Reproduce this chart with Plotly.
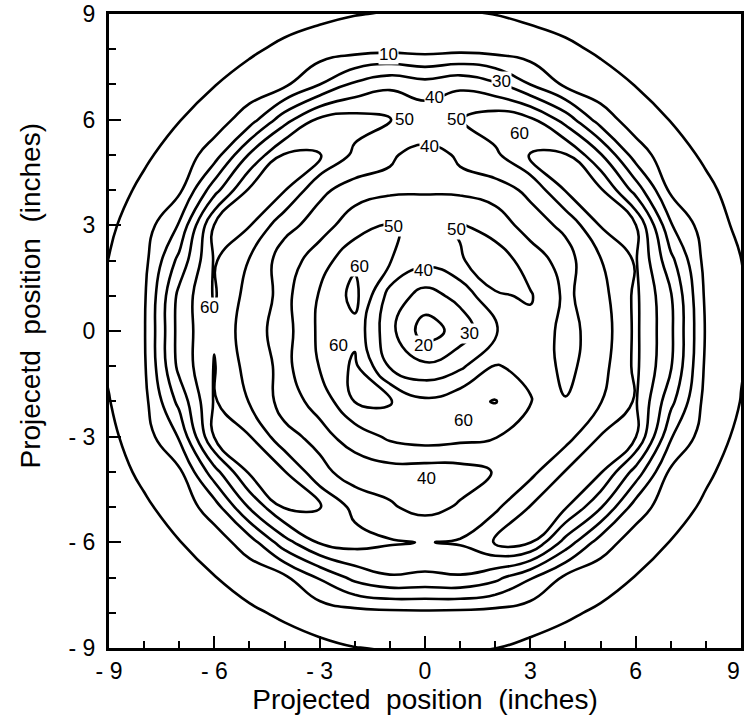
import plotly.graph_objects as go

# ---- data (grid in inches, values of the contoured quantity) ----
x_in = list(range(-10, 11))
y_in = list(range(-10, 11))

# rows ordered from y = -10 (first) to y = 10 (last); columns x = -10 .. 10
z_rows = [
    [-8, -8, -8, -8, -7.5, -7, -6.5, -6, -5.5, -5, -5, -5, -5.5, -6, -6.5, -7, -7.5, -8, -8, -8, -8],
    [-8, -8, -8, -7, -6.5, -5.5, -4, -2, -0.2, 0.5, 1, 0.5, 0.1, -2, -4, -5.5, -6.5, -7, -8, -8, -8],
    [-8, -8, -7, -6, -5, -1.5, 1.5, 4.5, 6.5, 7.5, 8, 7.5, 6.5, 4.5, 1.5, -1.5, -5, -6, -7, -8, -8],
    [-8, -7, -6, -4.5, -0.3, 4, 8, 21, 33, 39, 38, 39, 33, 21, 8, 4, -0.3, -4.5, -6, -7, -8],
    [-7.5, -6.5, -5, -0.3, 5, 15, 36, 51, 54, 51, 49.6, 51, 60.5, 60.5, 36, 15, 5, -0.3, -5, -6.5, -7.5],
    [-7, -5.5, -1.5, 4, 15, 41, 61, 60.5, 47, 41, 37, 41, 48, 60.5, 61, 41, 15, 4, -1.5, -5.5, -7],
    [-6.5, -4, 2, 8, 36, 61.5, 60.5, 43, 35, 36, 35, 36, 40.5, 47, 60.5, 61, 36, 8, 1.5, -4, -6.5],
    [-6, -2, 5, 21, 60.5, 60.5, 43, 37, 44, 52, 55, 53, 50.5, 44, 46, 60.5, 60.5, 21, 4.5, -2, -6],
    [-5.5, -0.3, 7, 33, 61, 49.5, 36, 43, 60.3, 61, 52, 57, 60.5, 50.5, 40.5, 49.5, 61, 33, 6.5, -0.2, -5.5],
    [-5, 1, 8.5, 43, 60.5, 46, 37, 50.5, 62, 39, 32, 38, 50.5, 48, 37, 46, 62, 41, 8, 0.5, -5],
    [-4.5, 2, 9, 44, 59, 44, 36, 52, 57, 33, 15, 24, 39.5, 47, 37, 44, 62, 42, 9, 1, -5],
    [-5, 1.5, 8.5, 43, 61, 46, 37, 51, 63, 36, 26, 33, 49, 51, 38, 46, 62, 41, 8, 0.5, -5],
    [-5.5, 0.2, 7, 33, 61, 49.5, 35, 45, 58, 50.5, 43, 49, 56, 45, 36, 49.5, 61, 33, 6.5, 0.1, -5.5],
    [-6, -1.5, 5, 21, 60.5, 60.5, 43, 36, 45, 51, 47, 51, 45, 36, 42, 60.5, 60.5, 21, 4.5, -2, -6],
    [-6.5, -4, 2, 8, 36, 61.5, 60.5, 42, 36, 38, 39, 38, 36, 42, 60.5, 61.5, 36, 8, 2, -4, -6.5],
    [-7, -5.5, -1.5, 4, 15, 41, 61, 60.5, 48, 41, 37, 41, 48, 60.5, 61, 41, 15, 4, -1.5, -5.5, -7],
    [-7.5, -6.5, -5, -0.3, 5, 15, 36, 52, 54, 50.5, 47, 49.5, 56, 52, 36, 15, 5, -0.3, -5, -6.5, -7.5],
    [-8, -7, -6, -4.5, -0.3, 4, 8, 20, 32, 38, 34, 38, 32, 20, 8, 4, -0.3, -4.5, -6, -7, -8],
    [-8, -8, -7, -6, -5, -1.5, 2, 4.5, 6, 7, 6, 7, 6, 4.5, 2, -1.5, -5, -6, -7, -8, -8],
    [-8, -8, -8, -7, -6.5, -5.5, -4, -2, -0.3, 0.5, 1, 0.5, -0.1, -2, -4, -5.5, -6.5, -7, -8, -8, -8],
    [-8, -8, -8, -8, -7.5, -7, -6.5, -6, -5.5, -5, -5, -5, -5.5, -6, -6.5, -7, -7.5, -8, -8, -8, -8],
]

level_start, level_end, level_step = 0, 60, 10

tick_vals = [-9, -6, -3, 0, 3, 6, 9]
tick_text = ["- 9", "- 6", "- 3", "0", "3", "6", "9"]

# contour labels shown in the reference (level value of each label)
label_levels = [10, 30, 40, 50, 50, 60, 40, 50, 50, 60, 60, 40, 20, 30, 60, 60, 40]

FONT = "Liberation Sans, Arial, Helvetica"

# ---- figure ----
fig = go.Figure()
fig.add_trace(go.Contour(
    x=x_in, y=y_in, z=z_rows,
    contours=dict(start=level_start, end=level_end, size=level_step,
                  coloring="lines", showlabels=False),
    line=dict(width=2.6, smoothing=1.3),
    colorscale=[[0, "black"], [1, "black"]],
    showscale=False,
    hoverinfo="skip",
))

label_pos = [(-1.05, 7.85), (2.17, 7.08), (0.27, 6.62), (-0.58, 6.0), (0.9, 6.0),
             (2.68, 5.62), (0.13, 5.23), (-0.9, 2.96), (0.9, 2.87), (-6.15, 0.68),
             (-1.86, 1.82), (-0.05, 1.73), (-0.05, -0.4), (1.27, -0.06), (-2.46, -0.4),
             (1.09, -2.53), (0.04, -4.18)]
for lev, (lx, ly) in zip(label_levels, label_pos):
    fig.add_annotation(x=lx, y=ly, text=str(lev), showarrow=False,
                       font=dict(family=FONT, size=17, color="black"),
                       bgcolor="white", borderpad=0)

axis_common = dict(
    range=[-9, 9], tickvals=tick_vals, ticktext=tick_text,
    ticks="inside", ticklen=12, tickwidth=2, tickcolor="black",
    showline=True, linewidth=3, linecolor="black", mirror=True,
    showgrid=False, zeroline=False,
    tickfont=dict(family=FONT, size=23, color="black"),
    minor=dict(ticks="inside", ticklen=7, tickwidth=1.5, tickcolor="black",
               dtick=1, tick0=0, showgrid=False),
)

fig.update_layout(
    width=745, height=725,
    margin=dict(l=109, r=1, t=13, b=77),
    paper_bgcolor="white", plot_bgcolor="white",
    xaxis=dict(**axis_common,
               title=dict(text="Projected\u00a0 position\u00a0 (inches)",
                          font=dict(family=FONT, size=28, color="black"),
                          standoff=2)),
    yaxis=dict(**axis_common, ticklabelstandoff=6),
    showlegend=False,
)
# last x tick label sits on the page edge in the reference; keep it visible
fig.add_annotation(xref="x", yref="paper", x=tick_vals[-1], y=0, yshift=-8, xshift=1,
                   text=tick_text[-1], showarrow=False, xanchor="right", yanchor="top",
                   font=dict(family=FONT, size=23, color="black"))
fig.add_annotation(xref="paper", yref="paper", x=-0.125, y=0.556,
                   text="Projecetd\u00a0 position\u00a0 (inches)", textangle=-90,
                   showarrow=False, xanchor="center", yanchor="middle",
                   font=dict(family=FONT, size=28, color="black"))

fig.write_html("out.html")
